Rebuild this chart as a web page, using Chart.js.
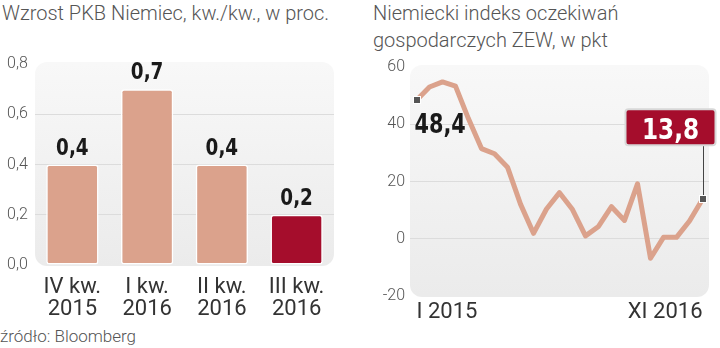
<!DOCTYPE html>
<html>
<head>
<meta charset="utf-8">
<script src="https://cdn.jsdelivr.net/npm/chart.js"></script>
<title>PKB i ZEW</title>
<style>
  body { margin: 0; background: #fff; width: 720px; height: 348px; position: relative; overflow: hidden; font-family: Roboto, sans-serif; }
  .title { position: absolute; color: #555; font-size: 20px; font-weight: 300; line-height: 27px; white-space: nowrap; }
  #t1 { left: 2px; top: 0px; }
  #t2 { left: 373px; top: 0px; }
  #src { position: absolute; left: 0; top: 326px; color: #555; font-size: 17px; font-weight: 300; }
  canvas { position: absolute; top: 0; }
  #pkb { left: 0; }
  #zew { left: 360px; }
</style>
</head>
<body>
<div class="title" id="t1">Wzrost PKB Niemiec, kw./kw., w proc.</div>
<div class="title" id="t2">Niemiecki indeks oczekiwań<br>gospodarczych ZEW, w pkt</div>
<div id="src">źródło: Bloomberg</div>
<canvas id="pkb" width="360" height="320"></canvas>
<canvas id="zew" width="360" height="348"></canvas>

<script>
// dane - PKB kw./kw.
const pkbLabels = [['IV kw.', '2015'], ['I kw.', '2016'], ['II kw.', '2016'], ['III kw.', '2016']];
const pkbValues = [0.4, 0.7, 0.4, 0.2];
const pkbColors = ['#dba28c', '#dba28c', '#dba28c', '#a50d2c'];

// dane - ZEW, miesiecznie
const zewMonths = ['I 2015', 'II 2015', 'III 2015', 'IV 2015', 'V 2015', 'VI 2015', 'VII 2015', 'VIII 2015',
  'IX 2015', 'X 2015', 'XI 2015', 'XII 2015', 'I 2016', 'II 2016', 'III 2016', 'IV 2016', 'V 2016',
  'VI 2016', 'VII 2016', 'VIII 2016', 'IX 2016', 'X 2016', 'XI 2016'];
const zewValues = [48.4, 53.0, 54.8, 53.3, 41.9, 31.5, 29.7, 25.0, 12.1, 1.9, 10.4, 16.1,
  10.2, 1.0, 4.3, 11.2, 6.4, 19.2, -6.8, 0.5, 0.5, 6.2, 13.8];

const fmt = v => v.toFixed(1).replace('.', ',');

Chart.defaults.font.family = 'Roboto';
Chart.defaults.font.weight = 300;
Chart.defaults.animation = false;

// waski pogrubiony napis (sciskany w poziomie)
function narrowText(ctx, txt, x, y, size, color, align) {
  ctx.save();
  ctx.font = 'bold ' + size + 'px "DejaVu Sans", sans-serif';
  ctx.fillStyle = color;
  ctx.textAlign = align;
  ctx.textBaseline = 'alphabetic';
  ctx.translate(x, y);
  ctx.scale(0.8, 1);
  ctx.fillText(txt, 0, 0);
  ctx.restore();
}

// szare tlo pod wykresem
const panelBg = {
  id: 'panelBg',
  beforeDraw(chart) {
    const a = chart.chartArea, ctx = chart.ctx;
    const g = ctx.createLinearGradient(0, a.top, 0, a.bottom);
    g.addColorStop(0, '#f8f8f8');
    g.addColorStop(1, '#ebebeb');
    ctx.save();
    ctx.fillStyle = g;
    ctx.beginPath();
    ctx.roundRect(a.left, a.top - 2, a.right - a.left, a.bottom - a.top + 3, 12);
    ctx.fill();
    ctx.restore();
  }
};

const gridOnlyInner = (lo, hi) => c => (c.tick.value === lo || c.tick.value === hi) ? 'rgba(0,0,0,0)' : '#dcdcdc';

const barLabels = {
  id: 'barLabels',
  afterDatasetsDraw(chart) {
    const meta = chart.getDatasetMeta(0);
    meta.data.forEach((bar, i) => {
      narrowText(chart.ctx, fmt(pkbValues[i]), bar.x, bar.y - 10, 23, '#1a1a1a', 'center');
    });
  }
};

new Chart(document.getElementById('pkb'), {
  type: 'bar',
  data: {
    labels: pkbLabels,
    datasets: [{
      data: pkbValues,
      backgroundColor: pkbColors,
      borderColor: '#ffffff',
      borderWidth: 1.5,
      borderRadius: 3,
      borderSkipped: false,
      barPercentage: 0.7,
      categoryPercentage: 1
    }]
  },
  options: {
    responsive: false,
    layout: { padding: { top: 64, right: 26, left: 7, bottom: 0 } },
    plugins: { legend: { display: false }, tooltip: { enabled: false } },
    scales: {
      x: {
        grid: { display: false },
        border: { display: false },
        ticks: { color: '#333', font: { size: 22, weight: 400, lineHeight: 1.0 }, padding: 3, maxRotation: 0 },
        afterFit: s => { s.height = 55; }
      },
      y: {
        min: 0, max: 0.8,
        grid: { color: gridOnlyInner(0, 0.8), drawTicks: false },
        border: { display: false },
        ticks: { stepSize: 0.2, color: '#555', font: { size: 16 }, crossAlign: 'far', callback: v => fmt(v) },
        afterFit: s => { s.width = 28; }
      }
    }
  },
  plugins: [panelBg, barLabels]
});

function marker(ctx, p) {
  ctx.save();
  ctx.fillStyle = '#fff';
  ctx.fillRect(Math.round(p.x) - 4, Math.round(p.y) - 4, 8, 8);
  ctx.fillStyle = '#555';
  ctx.fillRect(Math.round(p.x) - 3, Math.round(p.y) - 3, 6, 6);
  ctx.restore();
}

const zewNotes = {
  id: 'zewNotes',
  afterDatasetsDraw(chart) {
    const ctx = chart.ctx;
    const pts = chart.getDatasetMeta(0).data;
    const p0 = pts[0], pN = pts[pts.length - 1];
    // linia do ramki
    ctx.save();
    ctx.strokeStyle = '#444';
    ctx.lineWidth = 1;
    ctx.beginPath();
    ctx.moveTo(Math.round(pN.x) + 0.5, pN.y);
    ctx.lineTo(Math.round(pN.x) + 0.5, pN.y - 54);
    ctx.stroke();
    ctx.restore();
    marker(ctx, p0);
    marker(ctx, pN);
    // pierwsza wartosc
    narrowText(ctx, fmt(zewValues[0]), p0.x - 2, p0.y + 33, 26, '#1a1a1a', 'left');
    // ostatnia wartosc w ramce
    const bw = 90, bh = 36;
    const bx = pN.x + 13 - bw, by = pN.y - 54 - bh;
    ctx.save();
    ctx.fillStyle = '#a50d2c';
    ctx.strokeStyle = '#d8d8d8';
    ctx.lineWidth = 2;
    ctx.beginPath();
    ctx.roundRect(bx, by, bw, bh, 3);
    ctx.fill();
    ctx.stroke();
    ctx.restore();
    narrowText(ctx, fmt(zewValues[zewValues.length - 1]), bx + bw / 2, by + bh - 6, 29, '#fff', 'center');
  }
};

const lastIdx = zewValues.length - 1;

new Chart(document.getElementById('zew'), {
  type: 'line',
  data: {
    labels: zewMonths,
    datasets: [{
      data: zewValues,
      borderColor: '#dba28c',
      borderWidth: 5,
      tension: 0,
      borderJoinStyle: 'round',
      pointRadius: 0
    }]
  },
  options: {
    responsive: false,
    layout: { padding: { top: 67, right: 11, left: 0, bottom: 0 } },
    plugins: { legend: { display: false }, tooltip: { enabled: false } },
    scales: {
      x: {
        offset: true,
        grid: { display: false },
        border: { display: false },
        ticks: {
          autoSkip: false, maxRotation: 0, align: 'inner', padding: -5,
          color: '#333', font: { size: 22, weight: 400 },
          callback: (v, i) => (i === 0 || i === lastIdx) ? zewMonths[i] : ''
        },
        afterFit: s => { s.height = 52; }
      },
      y: {
        min: -20, max: 60,
        grid: { color: gridOnlyInner(-20, 60), drawTicks: false },
        border: { display: false },
        ticks: { stepSize: 20, color: '#555', font: { size: 16 }, padding: 5 },
        afterFit: s => { s.width = 50; }
      }
    }
  },
  plugins: [panelBg, zewNotes]
});
</script>
</body>
</html>
